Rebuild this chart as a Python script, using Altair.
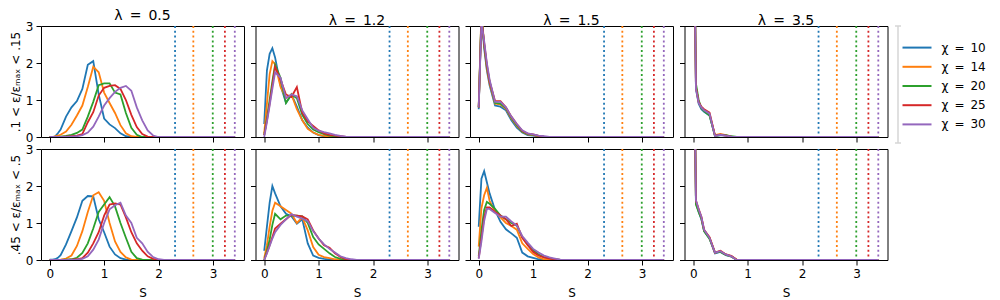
import altair as alt
import pandas as pd

FONT = "DejaVu Sans"
SP = "\u2002"  # en space, for the wider math-style spacing around "="

# x grid of the histogram (entropy S)
S_GRID = [0, 0.05, 0.1, 0.15, 0.2] + [round(0.3 + 0.1 * i, 2) for i in range(32)]

CHI_VALUES = ["10", "14", "20", "25", "30"]
CHI_LABELS = [f"χ{SP}={SP}{v}" for v in CHI_VALUES]
COLORS = ["#1f77b4", "#ff7f0e", "#2ca02c", "#d62728", "#9467bd"]
LAMBDAS = ["0.5", "1.2", "1.5", "3.5"]
ROW_TITLES = [".1 < ε/εₘₐₓ < .15", ".45 < ε/εₘₐₓ < .5"]
S_MAX = [2.303, 2.639, 2.996, 3.219, 3.401]
TICKS = [0, 1, 2, 3]

# row 1 (.1 < eps < .15), one list per chi (10, 14, 20, 25, 30); trailing values are 0
R0_L05 = [
    [0, 0, 0.02, 0.1, 0.2, 0.55, 0.8, 0.97, 1.3, 1.95, 2.05, 1.15, 0.5, 0.34, 0.24, 0.1, 0.02],
    [0, 0, 0.02, 0.04, 0.06, 0.15, 0.33, 0.58, 0.85, 1.35, 1.9, 1.75, 1.2, 0.92, 0.65, 0.32, 0.1, 0.02],
    [0, 0, 0, 0, 0.01, 0.03, 0.06, 0.11, 0.2, 0.55, 0.95, 1.4, 1.45, 1.45, 1.2, 1.15, 0.65, 0.25, 0.06],
    [0, 0, 0, 0, 0, 0.01, 0.02, 0.04, 0.08, 0.4, 0.67, 1.12, 1.33, 1.38, 1.4, 1.3, 1.0, 0.6, 0.27, 0.08, 0.01],
    [0, 0, 0, 0, 0, 0, 0.01, 0.02, 0.05, 0.12, 0.28, 0.55, 0.85, 1.05, 1.22, 1.33, 1.38, 1.25, 0.8, 0.45, 0.18, 0.04],
]
R0_L12 = [
    [0.35, 1.8, 2.25, 2.4, 2.15, 1.4, 0.92, 1.15, 0.82, 0.45, 0.25, 0.12, 0.05, 0.02, 0.01],
    [0.1, 0.9, 1.7, 2.05, 1.97, 1.35, 1.05, 1.15, 0.75, 0.45, 0.22, 0.12, 0.06, 0.03, 0.01],
    [0.05, 0.5, 1.0, 1.5, 1.95, 1.6, 0.92, 1.15, 1.05, 0.6, 0.35, 0.2, 0.13, 0.08, 0.04, 0.02],
    [0.05, 0.45, 0.9, 1.4, 1.9, 1.55, 1.15, 1.08, 1.35, 0.65, 0.42, 0.3, 0.18, 0.1, 0.06, 0.04, 0.02],
    [0, 0.4, 0.85, 1.3, 1.75, 1.6, 1.05, 1.15, 1.1, 0.72, 0.48, 0.25, 0.17, 0.13, 0.1, 0.06, 0.03, 0.01],
]
R0_L15 = [
    [0.75, 3.3, 2.4, 1.8, 1.4, 0.85, 0.82, 0.72, 0.45, 0.25, 0.12, 0.05, 0.04, 0.01],
    [0.8, 3.4, 2.5, 1.85, 1.45, 0.9, 0.88, 0.76, 0.5, 0.3, 0.14, 0.07, 0.05, 0.02],
    [0.8, 3.3, 2.5, 1.9, 1.5, 0.92, 0.9, 0.78, 0.52, 0.32, 0.15, 0.08, 0.06, 0.03, 0.01],
    [0.8, 3.2, 2.55, 1.95, 1.5, 0.97, 0.97, 0.8, 0.55, 0.35, 0.17, 0.09, 0.07, 0.03, 0.01],
    [0.8, 3.1, 2.6, 2.0, 1.55, 0.95, 0.95, 0.8, 0.55, 0.35, 0.18, 0.1, 0.07, 0.04, 0.02],
]
R0_L35 = [
    [8, 1.3, 0.9, 0.75, 0.68, 0.58, 0.03, 0.05, 0.04, 0.01],
    [8, 1.35, 0.95, 0.8, 0.72, 0.62, 0.05, 0.08, 0.05, 0.01],
    [8, 1.45, 1.0, 0.78, 0.7, 0.58, 0.03, 0.05, 0.05, 0.02],
    [8, 1.35, 0.95, 0.82, 0.75, 0.66, 0.04, 0.06, 0.04, 0.01],
    [8, 1.3, 0.93, 0.8, 0.72, 0.63, 0.03, 0.06, 0.04, 0.01],
]

# row 2 (.45 < eps < .5)
R1_L05 = [
    [0.01, 0.01, 0.02, 0.06, 0.13, 0.42, 0.78, 1.15, 1.6, 1.73, 1.72, 1.1, 0.75, 0.36, 0.15, 0.05, 0.01],
    [0, 0, 0, 0, 0.01, 0.04, 0.12, 0.38, 0.78, 1.3, 1.75, 1.83, 1.6, 1.0, 0.5, 0.22, 0.07, 0.01],
    [0, 0, 0, 0, 0, 0.01, 0.02, 0.06, 0.19, 0.45, 0.85, 1.3, 1.5, 1.7, 1.45, 1.0, 0.6, 0.22, 0.05, 0.01],
    [0, 0, 0, 0, 0, 0, 0.01, 0.02, 0.05, 0.2, 0.45, 0.75, 1.2, 1.5, 1.53, 1.5, 1.15, 0.75, 0.45, 0.25, 0.1, 0.03],
    [0, 0, 0, 0, 0, 0, 0, 0.01, 0.03, 0.1, 0.28, 0.55, 1.0, 1.37, 1.48, 1.55, 1.2, 1.0, 0.6, 0.45, 0.22, 0.08, 0.02],
]
R1_L12 = [
    [0.25, 0.9, 1.55, 2.0, 1.8, 1.45, 1.25, 1.18, 0.98, 1.1, 0.45, 0.12, 0.06, 0.03, 0.01],
    [0.05, 0.4, 0.9, 1.33, 1.55, 1.45, 1.35, 1.25, 1.0, 1.15, 0.8, 0.35, 0.14, 0.08, 0.05, 0.02],
    [0, 0.25, 0.55, 0.95, 1.25, 1.1, 1.2, 1.2, 1.2, 1.18, 1.0, 0.62, 0.42, 0.3, 0.18, 0.08, 0.03, 0.01],
    [0, 0.2, 0.4, 0.62, 0.85, 0.98, 1.1, 1.22, 1.2, 1.18, 1.1, 0.8, 0.58, 0.4, 0.33, 0.18, 0.08, 0.02],
    [0, 0.18, 0.38, 0.58, 0.75, 0.95, 1.1, 1.24, 1.17, 1.12, 1.05, 0.78, 0.58, 0.42, 0.3, 0.2, 0.1, 0.05, 0.02],
]
R1_L15 = [
    [0.9, 2.2, 2.4, 2.1, 1.8, 1.35, 1.03, 0.83, 0.72, 0.6, 0.2, 0.1, 0.06, 0.02],
    [0.36, 1.4, 1.75, 1.95, 1.6, 1.3, 1.15, 1.0, 0.92, 0.82, 0.45, 0.3, 0.16, 0.07, 0.02],
    [0.1, 0.8, 1.35, 1.57, 1.52, 1.38, 1.2, 1.1, 1.0, 0.93, 0.62, 0.43, 0.27, 0.15, 0.08, 0.05, 0.02],
    [0.05, 0.6, 1.15, 1.42, 1.42, 1.3, 1.2, 1.1, 0.92, 0.98, 0.6, 0.4, 0.22, 0.12, 0.07, 0.04, 0.02],
    [0.03, 0.5, 1.05, 1.38, 1.38, 1.27, 1.17, 1.17, 1.04, 0.93, 0.65, 0.47, 0.3, 0.2, 0.12, 0.07, 0.04, 0.01],
]
R1_L35 = [
    [8, 1.55, 1.3, 1.1, 0.78, 0.58, 0.18, 0.22, 0.13, 0.09, 0],
    [8, 1.6, 1.35, 1.15, 0.8, 0.6, 0.2, 0.24, 0.15, 0.1, 0.01],
    [8, 1.5, 1.3, 1.12, 0.78, 0.57, 0.2, 0.22, 0.14, 0.1, 0],
    [8, 1.6, 1.38, 1.17, 0.82, 0.62, 0.2, 0.25, 0.15, 0.11, 0.01],
    [8, 1.62, 1.37, 1.17, 0.82, 0.6, 0.2, 0.24, 0.15, 0.1, 0],
]

PANELS = [[R0_L05, R0_L12, R0_L15, R0_L35], [R1_L05, R1_L12, R1_L15, R1_L35]]

PW, PH = 203, 111
XDOM = [-0.16, 3.57]
cscale = alt.Scale(domain=CHI_LABELS, range=COLORS)


def make_df(series):
    rows = []
    for lab, vals in zip(CHI_LABELS, series):
        full = list(vals) + [0.0] * (len(S_GRID) - len(vals))
        for s, p in zip(S_GRID, full):
            rows.append({"S": s, "P": p, "chi": lab})
    return pd.DataFrame(rows)


vline_df = pd.DataFrame({"S": S_MAX, "chi": CHI_LABELS})


def panel(r, c):
    bottom = r == 1
    left = c == 0
    common = dict(values=TICKS, tickSize=5, tickColor="black", tickWidth=1,
                  domain=False, grid=False, labelFontSize=12, labelFont=FONT,
                  labelColor="black", labelPadding=3,
                  titleFont=FONT, titleFontSize=12, titleFontWeight="normal",
                  titleColor="black")
    xax = alt.Axis(labels=bottom, titlePadding=8, **common)
    yax = alt.Axis(labels=left, titlePadding=3, **common)
    x = alt.X("S:Q", scale=alt.Scale(domain=XDOM, nice=False, zero=False), axis=xax,
              title="S" if bottom else None)
    y = alt.Y("P:Q", scale=alt.Scale(domain=[0, 3], nice=False), axis=yax,
              title=ROW_TITLES[r] if left else None)
    color = alt.Color("chi:N", scale=cscale, legend=None)

    rules = alt.Chart(vline_df).mark_rule(strokeDash=[2, 2.8], strokeWidth=1.8).encode(
        x=x, color=color)
    lines = alt.Chart(make_df(PANELS[r][c])).mark_line(clip=True, strokeWidth=1.8).encode(
        x=x, y=y, color=color)
    ch = alt.layer(rules, lines).properties(
        width=PW, height=PH,
        view=alt.ViewBackground(stroke="black", strokeWidth=1))
    if r == 0:
        ch = ch.properties(title=alt.TitleParams(
            f"λ{SP}={SP}{LAMBDAS[c]}", fontSize=14, font=FONT, fontWeight="normal",
            color="black", offset=-3))
    return ch


# legend panel
leg_df = pd.DataFrame({"chi": CHI_LABELS})
one = pd.DataFrame({"k": [0]})
ly = alt.Y("chi:N", scale=alt.Scale(type="point", domain=CHI_LABELS, range=[12, 108]), axis=None)
bracket = alt.Chart(one).mark_rule(color="#d6d6d6", strokeWidth=1.5).encode(
    x=alt.value(2), y=alt.value(0), y2=alt.value(117))
cap_top = alt.Chart(one).mark_rule(color="#d6d6d6", strokeWidth=1.5).encode(
    x=alt.value(-1), x2=alt.value(5), y=alt.value(0))
cap_bot = alt.Chart(one).mark_rule(color="#d6d6d6", strokeWidth=1.5).encode(
    x=alt.value(-1), x2=alt.value(5), y=alt.value(117))
swatch = alt.Chart(leg_df).mark_rule(strokeWidth=2).encode(
    x=alt.value(6.5), x2=alt.value(35.5), y=ly,
    color=alt.Color("chi:N", scale=cscale, legend=None))
labels = alt.Chart(leg_df).mark_text(align="left", baseline="middle", fontSize=12,
                                     font=FONT, color="black").encode(
    x=alt.value(45.5), y=ly, text="chi:N")
legend = alt.layer(bracket, cap_top, cap_bot, swatch, labels).properties(
    width=95, height=PH, view=alt.ViewBackground(stroke="transparent"))

row0 = alt.hconcat(*[panel(0, c) for c in range(4)], legend, spacing=4.5).resolve_scale(
    y="independent", x="independent")
row1 = alt.hconcat(*[panel(1, c) for c in range(4)], spacing=4.5).resolve_scale(
    y="independent", x="independent")

chart = alt.vconcat(row0, row1, spacing=-3).properties(padding=0).configure(font=FONT)

chart.save("out.html", embed_options={"renderer": "svg", "actions": False})
